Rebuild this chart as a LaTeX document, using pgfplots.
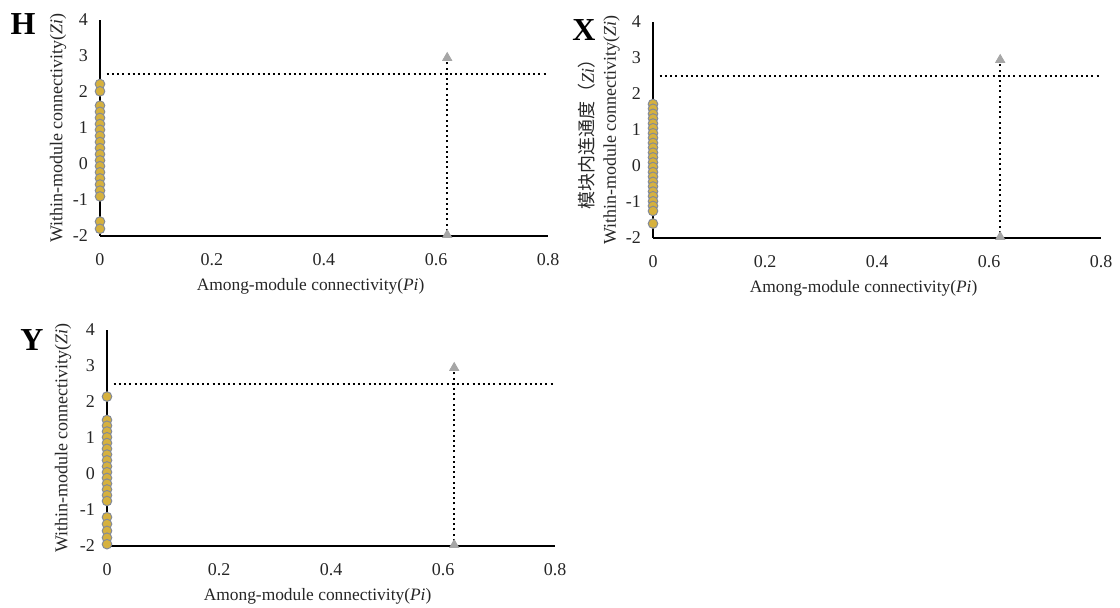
\documentclass[border=0pt]{standalone}
\usepackage{fontspec}
\setmainfont{Liberation Serif}
\newfontfamily\cjk{Noto Sans CJK SC}
\usepackage{pgfplots}
\pgfplotsset{compat=1.18}
\definecolor{ptfill}{HTML}{D6B13E}
\definecolor{ptdraw}{HTML}{858B96}
\pgfplotsset{
  panel/.style={
    scale only axis,
    width=224pt, height=108pt,
    xmin=0, xmax=0.8, ymin=-2, ymax=4,
    axis x line*=bottom, axis y line*=left,
    axis line style={line width=1.1pt, black},
    major tick length=0pt,
    xtick={0,0.2,0.4,0.6,0.8},
    xticklabels={0,0.2,0.4,0.6,0.8},
    ytick={-2,-1,0,1,2,3,4},
    yticklabels={-2,-1,0,1,2,3,4},
    tick label style={font=\fontsize{9}{10}\selectfont, text=black!85},
    xticklabel style={yshift=-5pt},
    yticklabel style={xshift=-2.5pt},
    label style={font=\fontsize{8.7}{10.5}\selectfont, text=black!85},
    xlabel={Among-module connectivity(\textit{Pi})},
    xlabel style={at={(axis description cs:0.47,0)}, anchor=center, yshift=-25pt},
    ylabel style={at={(axis description cs:0,0.5)}, anchor=center, font=\fontsize{9}{11}\selectfont},
    clip=false,
  },
  pts/.style={only marks, mark=*, mark size=2.4pt, mark options={fill=ptfill, draw=ptdraw, line width=0.5pt}},
  hdot/.style={black, line width=1pt, dash pattern=on 1pt off 1.6pt},
}
\begin{document}
\begin{tikzpicture}[x=1pt,y=1pt]
\path[use as bounding box] (0,0) rectangle (560,304);

% Panel H
\begin{axis}[panel, at={(50pt,186pt)}, anchor=south west,
  ylabel={Within-module connectivity(\textit{Zi})},
  ylabel style={yshift=21pt}]
\addplot[hdot] coordinates {(0.012,2.5) (0.8,2.5)};
\addplot[hdot] coordinates {(0.62,-2) (0.62,2.9)};
\addplot[only marks, mark=triangle*, mark size=2.6pt, color=gray!70] coordinates {(0.62,2.95) (0.62,-1.97)};
\addplot[pts] coordinates {
(0,2.22) (0,2.02)
(0,1.62) (0,1.45) (0,1.28) (0,1.11) (0,0.95) (0,0.78) (0,0.61) (0,0.44)
(0,0.27) (0,0.10) (0,-0.06) (0,-0.23) (0,-0.40) (0,-0.57) (0,-0.74) (0,-0.90)
(0,-1.60) (0,-1.80)
};
\end{axis}
\node[font=\fontsize{16}{16}\bfseries\selectfont] at (11.5pt,292pt) {H};

% Panel X
\begin{axis}[panel, at={(326.5pt,185pt)}, anchor=south west,
  ylabel={{\cjk 模块内连通度（}\textit{Zi}{\cjk ）}\\Within-module connectivity(\textit{Zi})},
  ylabel style={align=center, yshift=27pt}]
\addplot[hdot] coordinates {(0.012,2.5) (0.8,2.5)};
\addplot[hdot] coordinates {(0.62,-2) (0.62,2.9)};
\addplot[only marks, mark=triangle*, mark size=2.6pt, color=gray!70] coordinates {(0.62,2.95) (0.62,-1.97)};
\addplot[pts] coordinates {
(0,1.72) (0,1.59) (0,1.45) (0,1.32) (0,1.18) (0,1.05) (0,0.91) (0,0.78)
(0,0.64) (0,0.51) (0,0.37) (0,0.24) (0,0.10) (0,-0.03) (0,-0.17) (0,-0.30)
(0,-0.44) (0,-0.57) (0,-0.71) (0,-0.84) (0,-0.98) (0,-1.11) (0,-1.25)
(0,-1.60)
};
\end{axis}
\node[font=\fontsize{16}{16}\bfseries\selectfont] at (292pt,289pt) {X};

% Panel Y
\begin{axis}[panel, at={(53.5pt,31pt)}, anchor=south west,
  ylabel={Within-module connectivity(\textit{Zi})},
  ylabel style={yshift=22pt}]
\addplot[hdot] coordinates {(0.012,2.5) (0.8,2.5)};
\addplot[hdot] coordinates {(0.62,-2) (0.62,2.9)};
\addplot[only marks, mark=triangle*, mark size=2.6pt, color=gray!70] coordinates {(0.62,2.95) (0.62,-1.97)};
\addplot[pts] coordinates {
(0,2.15)
(0,1.50) (0,1.34) (0,1.18) (0,1.02) (0,0.86) (0,0.70) (0,0.54) (0,0.38)
(0,0.21) (0,0.05) (0,-0.11) (0,-0.27) (0,-0.43) (0,-0.59) (0,-0.75)
(0,-1.20) (0,-1.39) (0,-1.58) (0,-1.77) (0,-1.95)
};
\end{axis}
\node[font=\fontsize{16}{16}\bfseries\selectfont] at (16pt,134pt) {Y};
\end{tikzpicture}
\end{document}
